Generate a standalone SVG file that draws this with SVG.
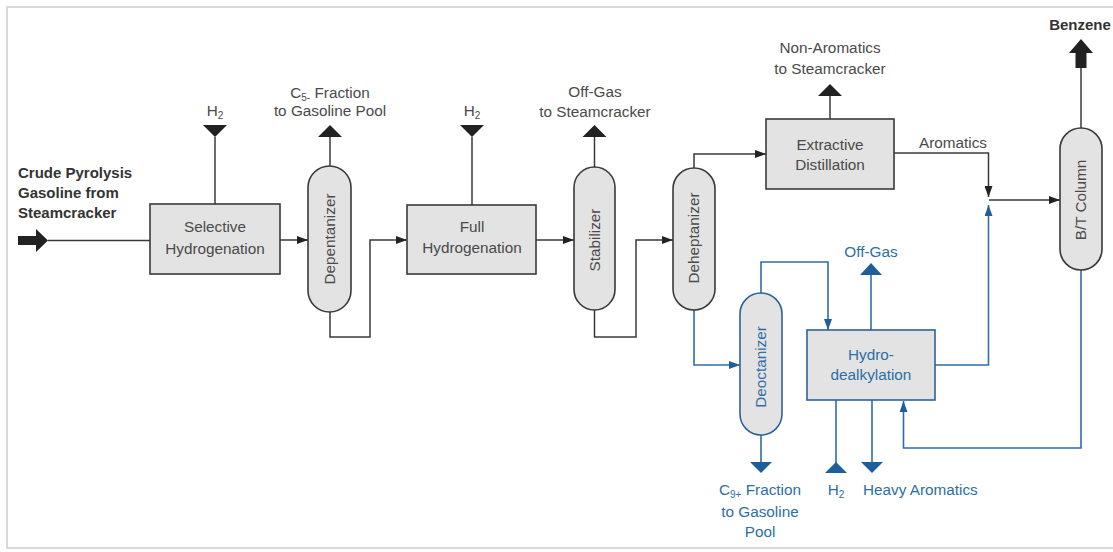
<svg xmlns="http://www.w3.org/2000/svg" width="1113" height="552" viewBox="0 0 1113 552">
<style>
  text { font-family: "Liberation Sans", Arial, sans-serif; font-size: 15.3px; fill: #4a4a4a; }
  .b { font-weight: bold; fill: #333; font-size: 15px; }
  .bl { fill: #2e6ea6; }
  .mid { text-anchor: middle; }
  .box { fill: #e3e3e3; stroke: #3a3a3a; stroke-width: 1.6; }
  .boxb { fill: #e3e3e3; stroke: #2c6396; stroke-width: 1.6; }
  .ln { fill: none; stroke: #3a3a3a; stroke-width: 1.5; }
  .lb { fill: none; stroke: #2e6ea6; stroke-width: 1.6; }
  .hd { fill: #222; }
  .hb { fill: #1f5f99; }
  .sub { font-size: 10px; }
</style>
<defs>
  <marker id="ak" markerUnits="userSpaceOnUse" markerWidth="11" markerHeight="8" refX="11" refY="4" orient="auto">
    <path d="M0,0 L11,4 L0,8 z" fill="#222"/>
  </marker>
  <marker id="ab" markerUnits="userSpaceOnUse" markerWidth="11" markerHeight="8" refX="11" refY="4" orient="auto">
    <path d="M0,0 L11,4 L0,8 z" fill="#1f5f99"/>
  </marker>
</defs>
<rect x="7" y="7" width="1112" height="541" fill="#fff" stroke="#d9d9d9" stroke-width="2"/>

<g id="connectors">
  <polygon class="hd" points="18,236 36,236 36,229 48,240.5 36,252 36,245 18,245"/>
  <line class="ln" x1="48" y1="240.5" x2="150" y2="240.5"/>
  <polygon class="hd" points="203,125 227,125 215,137"/>
  <line class="ln" x1="215" y1="137" x2="215" y2="204"/>
  <line class="ln" x1="280" y1="240" x2="308" y2="240" marker-end="url(#ak)"/>
  <line class="ln" x1="330" y1="166" x2="330" y2="137"/>
  <polygon class="hd" points="318,137 342,137 330,125"/>
  <path class="ln" d="M330,312 V337 H370 V240 H407" marker-end="url(#ak)"/>
  <polygon class="hd" points="460,125 484,125 472,137"/>
  <line class="ln" x1="472" y1="137" x2="472" y2="205"/>
  <line class="ln" x1="536" y1="240" x2="574" y2="240" marker-end="url(#ak)"/>
  <line class="ln" x1="594.5" y1="167" x2="594.5" y2="137"/>
  <polygon class="hd" points="582.5,137 606.5,137 594.5,125"/>
  <path class="ln" d="M594.5,310 V337 H636 V240 H673" marker-end="url(#ak)"/>
  <path class="ln" d="M694,168 V154 H766" marker-end="url(#ak)"/>
  <line class="ln" x1="830" y1="119" x2="830" y2="96"/>
  <polygon class="hd" points="818,96 842,96 830,84"/>
  <path class="ln" d="M894,153 H988.5 V197" marker-end="url(#ak)"/>
  <line class="ln" x1="989" y1="200" x2="1060" y2="200" marker-end="url(#ak)"/>
  <line class="ln" x1="1081" y1="128" x2="1081" y2="66"/>
  <polygon class="hd" points="1075.5,68 1086.5,68 1086.5,53 1093,53 1081,39 1069,53 1075.5,53"/>
  <path class="lb" d="M694,310 V365 H740" marker-end="url(#ab)"/>
  <path class="lb" d="M761,293 V262 H828 V330" marker-end="url(#ab)"/>
  <line class="lb" x1="761" y1="435" x2="761" y2="462"/>
  <polygon class="hb" points="750,462 772,462 761,473"/>
  <line class="lb" x1="836" y1="400" x2="836" y2="463"/>
  <polygon class="hb" points="825,473 847,473 836,462"/>
  <line class="lb" x1="872" y1="400" x2="872" y2="462"/>
  <polygon class="hb" points="861,462 883,462 872,473"/>
  <line class="lb" x1="871" y1="330" x2="871" y2="275"/>
  <polygon class="hb" points="860,275 882,275 871,263"/>
  <path class="lb" d="M935,365 H988.5 V205" marker-end="url(#ab)"/>
  <path class="lb" d="M1081,270 V448 H903.5 V401" marker-end="url(#ab)"/>
</g>

<g id="feed-label">
  <text class="b" x="18" y="178">Crude Pyrolysis</text>
  <text class="b" x="18" y="198">Gasoline from</text>
  <text class="b" x="18" y="218">Steamcracker</text>
</g>
<g id="labels">
  <text class="mid" x="215" y="116">H<tspan class="sub" dy="3">2</tspan></text>
  <text class="mid" x="330" y="98">C<tspan class="sub" dy="3">5-</tspan><tspan dy="-3"> Fraction</tspan></text>
  <text class="mid" x="330" y="116">to Gasoline Pool</text>
  <text class="mid" x="472" y="116">H<tspan class="sub" dy="3">2</tspan></text>
  <text class="mid" x="595" y="97">Off-Gas</text>
  <text class="mid" x="595" y="117">to Steamcracker</text>
  <text class="mid" x="830" y="53">Non-Aromatics</text>
  <text class="mid" x="830" y="74">to Steamcracker</text>
  <text x="919" y="148">Aromatics</text>
  <text class="b mid" x="1080" y="30">Benzene</text>
  <text class="bl mid" x="871" y="257">Off-Gas</text>
  <text class="bl mid" x="760" y="495">C<tspan class="sub" dy="3">9+</tspan><tspan dy="-3"> Fraction</tspan></text>
  <text class="bl mid" x="760" y="517">to Gasoline</text>
  <text class="bl mid" x="760" y="537">Pool</text>
  <text class="bl mid" x="836" y="495">H<tspan class="sub" dy="3">2</tspan></text>
  <text class="bl" x="863" y="495">Heavy Aromatics</text>
</g>

<g id="selective-hydrogenation">
  <rect class="box" x="150" y="204" width="130" height="70"/>
  <text class="mid" x="215" y="232">Selective</text>
  <text class="mid" x="215" y="254">Hydrogenation</text>
</g>
<g id="depentanizer">
  <rect class="box" x="308" y="166" width="43" height="146" rx="21.5"/>
  <text class="mid" transform="rotate(-90 329.5 239)" x="329.5" y="244">Depentanizer</text>
</g>
<g id="full-hydrogenation">
  <rect class="box" x="407" y="205" width="129" height="69"/>
  <text class="mid" x="472" y="232">Full</text>
  <text class="mid" x="472" y="253">Hydrogenation</text>
</g>
<g id="stabilizer">
  <rect class="box" x="574" y="167" width="41" height="143" rx="20.5"/>
  <text class="mid" transform="rotate(-90 594.5 240)" x="594.5" y="245">Stabilizer</text>
</g>
<g id="deheptanizer">
  <rect class="box" x="673" y="168" width="42" height="142" rx="21"/>
  <text class="mid" transform="rotate(-90 694 238)" x="694" y="243">Deheptanizer</text>
</g>
<g id="extractive-distillation">
  <rect class="box" x="766" y="119" width="128" height="70"/>
  <text class="mid" x="830" y="150">Extractive</text>
  <text class="mid" x="830" y="170">Distillation</text>
</g>
<g id="bt-column">
  <rect class="box" x="1060" y="128" width="42" height="142" rx="21"/>
  <text class="mid" transform="rotate(-90 1081 200)" x="1081" y="205">B/T Column</text>
</g>
<g id="deoctanizer">
  <rect class="boxb" x="740" y="293" width="42" height="142" rx="21"/>
  <text class="bl mid" transform="rotate(-90 761 367)" x="761" y="372">Deoctanizer</text>
</g>
<g id="hydrodealkylation">
  <rect class="boxb" x="807" y="330" width="128" height="70"/>
  <text class="bl mid" x="871" y="360">Hydro-</text>
  <text class="bl mid" x="871" y="380">dealkylation</text>
</g>
</svg>
